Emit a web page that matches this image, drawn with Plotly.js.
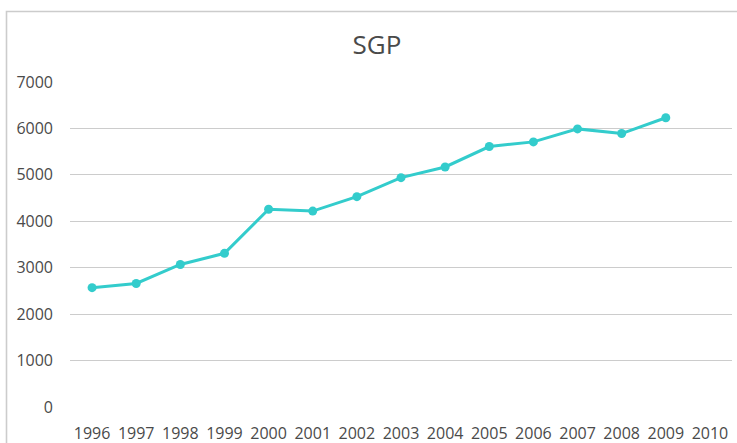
<!DOCTYPE html>
<html>
<head>
<meta charset="utf-8">
<script src="https://cdn.plot.ly/plotly-3.0.1.min.js"></script>
<style>
html,body{margin:0;padding:0;background:#fff;}
#chart{width:737px;height:443px;}
</style>
</head>
<body>
<div id="chart"></div>
<script>
var years = ["1996","1997","1998","1999","2000","2001","2002","2003","2004","2005","2006","2007","2008","2009","2010"];
var sgpYears = ["1996","1997","1998","1999","2000","2001","2002","2003","2004","2005","2006","2007","2008","2009"];
var sgpValues = [2570, 2660, 3070, 3310, 4260, 4220, 4530, 4940, 5170, 5610, 5710, 5990, 5890, 6230];
var yTicks = [0, 1000, 2000, 3000, 4000, 5000, 6000, 7000];

var trace = {
  x: sgpYears,
  y: sgpValues,
  type: 'scatter',
  mode: 'lines+markers',
  line: {color: '#33CCCC', width: 3},
  marker: {color: '#33CCCC', size: 9},
  hoverinfo: 'x+y'
};

var textColor = '#4a4a4a';

var layout = {
  width: 737, height: 443,
  margin: {l: 70, r: 5, t: 82, b: 36},
  paper_bgcolor: '#ffffff',
  plot_bgcolor: '#ffffff',
  showlegend: false,
  font: {family: 'Open Sans, sans-serif', color: textColor, size: 16},
  title: {text: 'SGP', font: {size: 26, color: textColor, family: 'Open Sans, sans-serif'},
          xref: 'container', x: 377 / 737, xanchor: 'center', yref: 'container', y: 1 - 45/443, yanchor: 'middle'},
  xaxis: {
    type: 'category',
    categoryorder: 'array', categoryarray: years,
    tickvals: years, ticktext: years,
    range: [-0.5, 14.5],
    showgrid: false, zeroline: false, showline: false, ticks: '',
    ticklabelstandoff: 15,
    tickfont: {size: 16, color: textColor}
  },
  yaxis: {
    range: [0, 7000],
    tickvals: yTicks,
    showgrid: true, gridcolor: '#cccccc', gridwidth: 1,
    zeroline: false, showline: false, ticks: '',
    ticklabelstandoff: 16,
    tickfont: {size: 16, color: textColor}
  },
  shapes: [{
    type: 'rect', xref: 'paper', yref: 'paper',
    x0: (6.5 - 70) / 662, x1: 1.05, y0: -0.3, y1: (407 - 11.5) / 325,
    line: {color: '#cccccc', width: 1.6}, fillcolor: 'rgba(0,0,0,0)', layer: 'below'
  }]
};

Plotly.newPlot('chart', [trace], layout, {displayModeBar: false, staticPlot: true});
</script>
</body>
</html>
